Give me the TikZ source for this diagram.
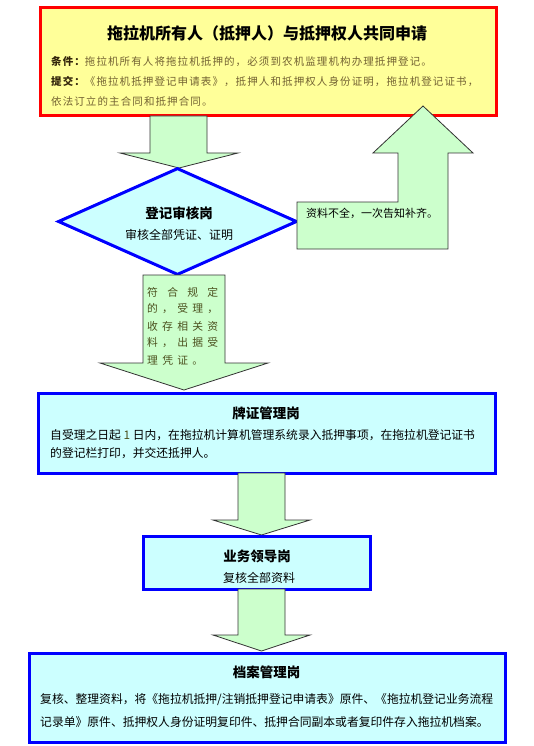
\documentclass[tikz,border=0pt]{standalone}
\usepackage{fontspec}
\setmainfont{Noto Sans CJK SC}
\newfontfamily\spaced[LetterSpace=10.5]{Noto Sans CJK SC}
\usetikzlibrary{shapes.geometric}
\definecolor{yellowfill}{RGB}{255,255,153}
\definecolor{greenfill}{RGB}{204,255,204}
\definecolor{cyanfill}{RGB}{204,255,255}
\definecolor{olivetext}{RGB}{115,98,50}
\definecolor{darklabel}{RGB}{50,36,10}
\definecolor{arrowtext}{RGB}{75,80,30}
\tikzset{
  blockarrow/.style={fill=greenfill, draw=black!80, line width=0.8pt, line join=miter},
  bluebox/.style={draw=blue, line width=3pt, fill=cyanfill, inner sep=0pt},
  titletext/.style={font=\fontsize{13.5}{16}\selectfont\bfseries, inner sep=0pt},
  bodytext/.style={font=\fontsize{11.8}{14}\selectfont, anchor=west, inner sep=0pt},
  toptext/.style={font=\spaced\fontsize{10.5}{12}\selectfont, anchor=west, inner sep=0pt, text=olivetext},
  arrowlabel/.style={font=\fontsize{10.8}{12}\selectfont, anchor=west, inner sep=0pt, text=arrowtext}
}
\begin{document}
\begin{tikzpicture}[x=1pt,y=-1pt]
\useasboundingbox (0,0) rectangle (533,746);
\fill[white] (0,0) rectangle (533,746);

% top box
\node[draw=red, line width=3pt, fill=yellowfill, minimum width=456pt, minimum height=108pt, inner sep=0pt] (apply) at (268,62) {};
\node[font=\fontsize{16}{18}\selectfont\bfseries, inner sep=0pt] (applytitle) at (267,33) {拖拉机所有人（抵押人）与抵押权人共同申请};
\node[toptext] (cond) at (51,61.5) {\textcolor{darklabel}{\bfseries 条件：}拖拉机所有人将拖拉机抵押的，必须到农机监理机构办理抵押登记。};
\node[toptext] (sub1) at (51,81.5) {\textcolor{darklabel}{\bfseries 提交：}《拖拉机抵押登记申请表》，抵押人和抵押权人身份证明，拖拉机登记证书，};
\node[toptext] (sub2) at (51,101.5) {依法订立的主合同和抵押合同。};

% arrow 1
\draw[blockarrow] (150,116) -- (207,116) -- (207,153) -- (238,153) -- (179,168) -- (120,153) -- (150,153) -- cycle;

% diamond
\node[diamond, draw=blue, line width=3pt, fill=cyanfill, minimum width=239pt, minimum height=107pt, inner sep=0pt] (check) at (177.5,221.5) {};
\node[titletext] (checktitle) at (179,213) {登记审核岗};
\node[font=\fontsize{12}{14}\selectfont, inner sep=0pt] (checksub) at (179,235) {审核全部凭证、证明};

% return arrow
\draw[blockarrow] (297,249) -- (448,249) -- (448,153) -- (473,153) -- (423,106) -- (373,153) -- (398,153) -- (398,202) -- (297,202) -- cycle;
\node[font=\fontsize{11}{13}\selectfont, anchor=west, inner sep=0pt] (missing) at (306,213) {资料不全，一次告知补齐。};

% arrow 2
\draw[blockarrow] (143,275) -- (225,275) -- (225,363) -- (268,363) -- (184,390) -- (100,363) -- (143,363) -- cycle;
\node[arrowlabel] (acc1) at (147,292) {\makebox[71pt][s]{符\hfill 合\hfill 规\hfill 定}};
\node[arrowlabel] (acc2) at (147,309) {\makebox[71pt][s]{的\hfill ，\hfill 受\hfill 理\hfill ，}};
\node[arrowlabel] (acc3) at (147,326) {\makebox[71pt][s]{收\hfill 存\hfill 相\hfill 关\hfill 资}};
\node[arrowlabel] (acc4) at (147,343) {\makebox[71pt][s]{料\hfill ，\hfill 出\hfill 据\hfill 受}};
\node[arrowlabel] (acc5) at (147,360) {\makebox[56pt][s]{理\hfill 凭\hfill 证\hfill 。}};

% box 3
\node[bluebox, minimum width=457pt, minimum height=80pt] (plate) at (266.5,433) {};
\node[titletext] (platetitle) at (266,413) {牌证管理岗};
\node[bodytext] (plate1) at (50,435) {自受理之日起 \textcolor{arrowtext}{1} 日内，在拖拉机计算机管理系统录入抵押事项，在拖拉机登记证书};
\node[bodytext] (plate2) at (50,453) {的登记栏打印，并交还抵押人。};

% arrow 3
\draw[blockarrow] (238,473) -- (285,473) -- (285,520) -- (310,520) -- (261.5,535) -- (213,520) -- (238,520) -- cycle;

% box 4
\node[bluebox, minimum width=227pt, minimum height=53pt] (lead) at (256.5,562.5) {};
\node[titletext] (leadtitle) at (257,556) {业务领导岗};
\node[font=\fontsize{12}{14}\selectfont, inner sep=0pt] (leadsub) at (259,578) {复核全部资料};

% arrow 4
\draw[blockarrow] (238,589) -- (285,589) -- (285,635) -- (310,635) -- (261.5,651) -- (213,635) -- (238,635) -- cycle;

% box 5
\node[bluebox, minimum width=476pt, minimum height=89pt] (archive) at (267,697.5) {};
\node[titletext] (archivetitle) at (266.5,672) {档案管理岗};
\node[bodytext] (arch1) at (40,700) {复核、整理资料，将《拖拉机抵押/注销抵押登记申请表》原件、《拖拉机登记业务流程};
\node[bodytext] (arch2) at (40,722) {记录单》原件、抵押权人身份证明复印件、抵押合同副本或者复印件存入拖拉机档案。};
\end{tikzpicture}
\end{document}
